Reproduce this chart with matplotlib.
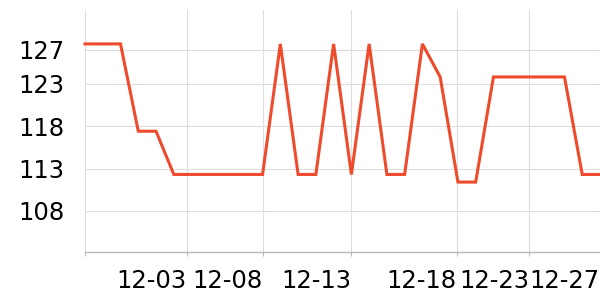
import matplotlib
matplotlib.use("Agg")
import matplotlib.pyplot as plt

# one value per point
VALUES = [127.7, 127.7, 127.7, 117.4, 117.4, 112.3, 112.3, 112.3, 112.3, 112.3,
          112.3, 127.7, 112.3, 112.3, 127.7, 112.3, 127.7, 112.3, 112.3, 127.7,
          123.8, 111.4, 111.4, 123.8, 123.8, 123.8, 123.8, 123.8, 112.3, 112.3]
X_TICKS = [0, 5.72, 10, 15, 20.93, 25, 29]
X_LABELS = ["", "12-03", "12-08", "12-13", "12-18", "12-23", "12-27"]
Y_TICKS = [108, 113, 118, 123, 127]
Y_LABELS = ["108", "113", "118", "123", "127"]

LINE_COLOR = "#ee4a2c"
GRID_COLOR = "#dddddd"


def main():
    fig = plt.figure(figsize=(6, 3), dpi=100)
    ax = fig.add_axes([85 / 600, 48 / 300, 515 / 600, 242 / 300])

    ax.plot(range(len(VALUES)), VALUES, color=LINE_COLOR, linewidth=2.2,
            solid_joinstyle="miter", clip_on=False, zorder=3)

    ax.set_xlim(0, len(VALUES) - 1)
    ax.set_ylim(103.15, 131.7)

    ax.set_xticks(X_TICKS)
    ax.set_xticklabels(X_LABELS, fontsize=17.5, ha="right")
    ax.set_yticks(Y_TICKS)
    ax.set_yticklabels(Y_LABELS, fontsize=17.5)

    ax.grid(True, color=GRID_COLOR, linewidth=0.8)
    ax.set_axisbelow(True)
    for side in ["left", "right", "top"]:
        ax.spines[side].set_visible(False)
    ax.spines["bottom"].set_color("#bbbbbb")
    ax.spines["bottom"].set_linewidth(1)
    ax.tick_params(axis="x", length=3, color="#bbbbbb", pad=9)
    ax.tick_params(axis="y", length=0, pad=14.5)

    fig.savefig("out.png", dpi=100)


main()
